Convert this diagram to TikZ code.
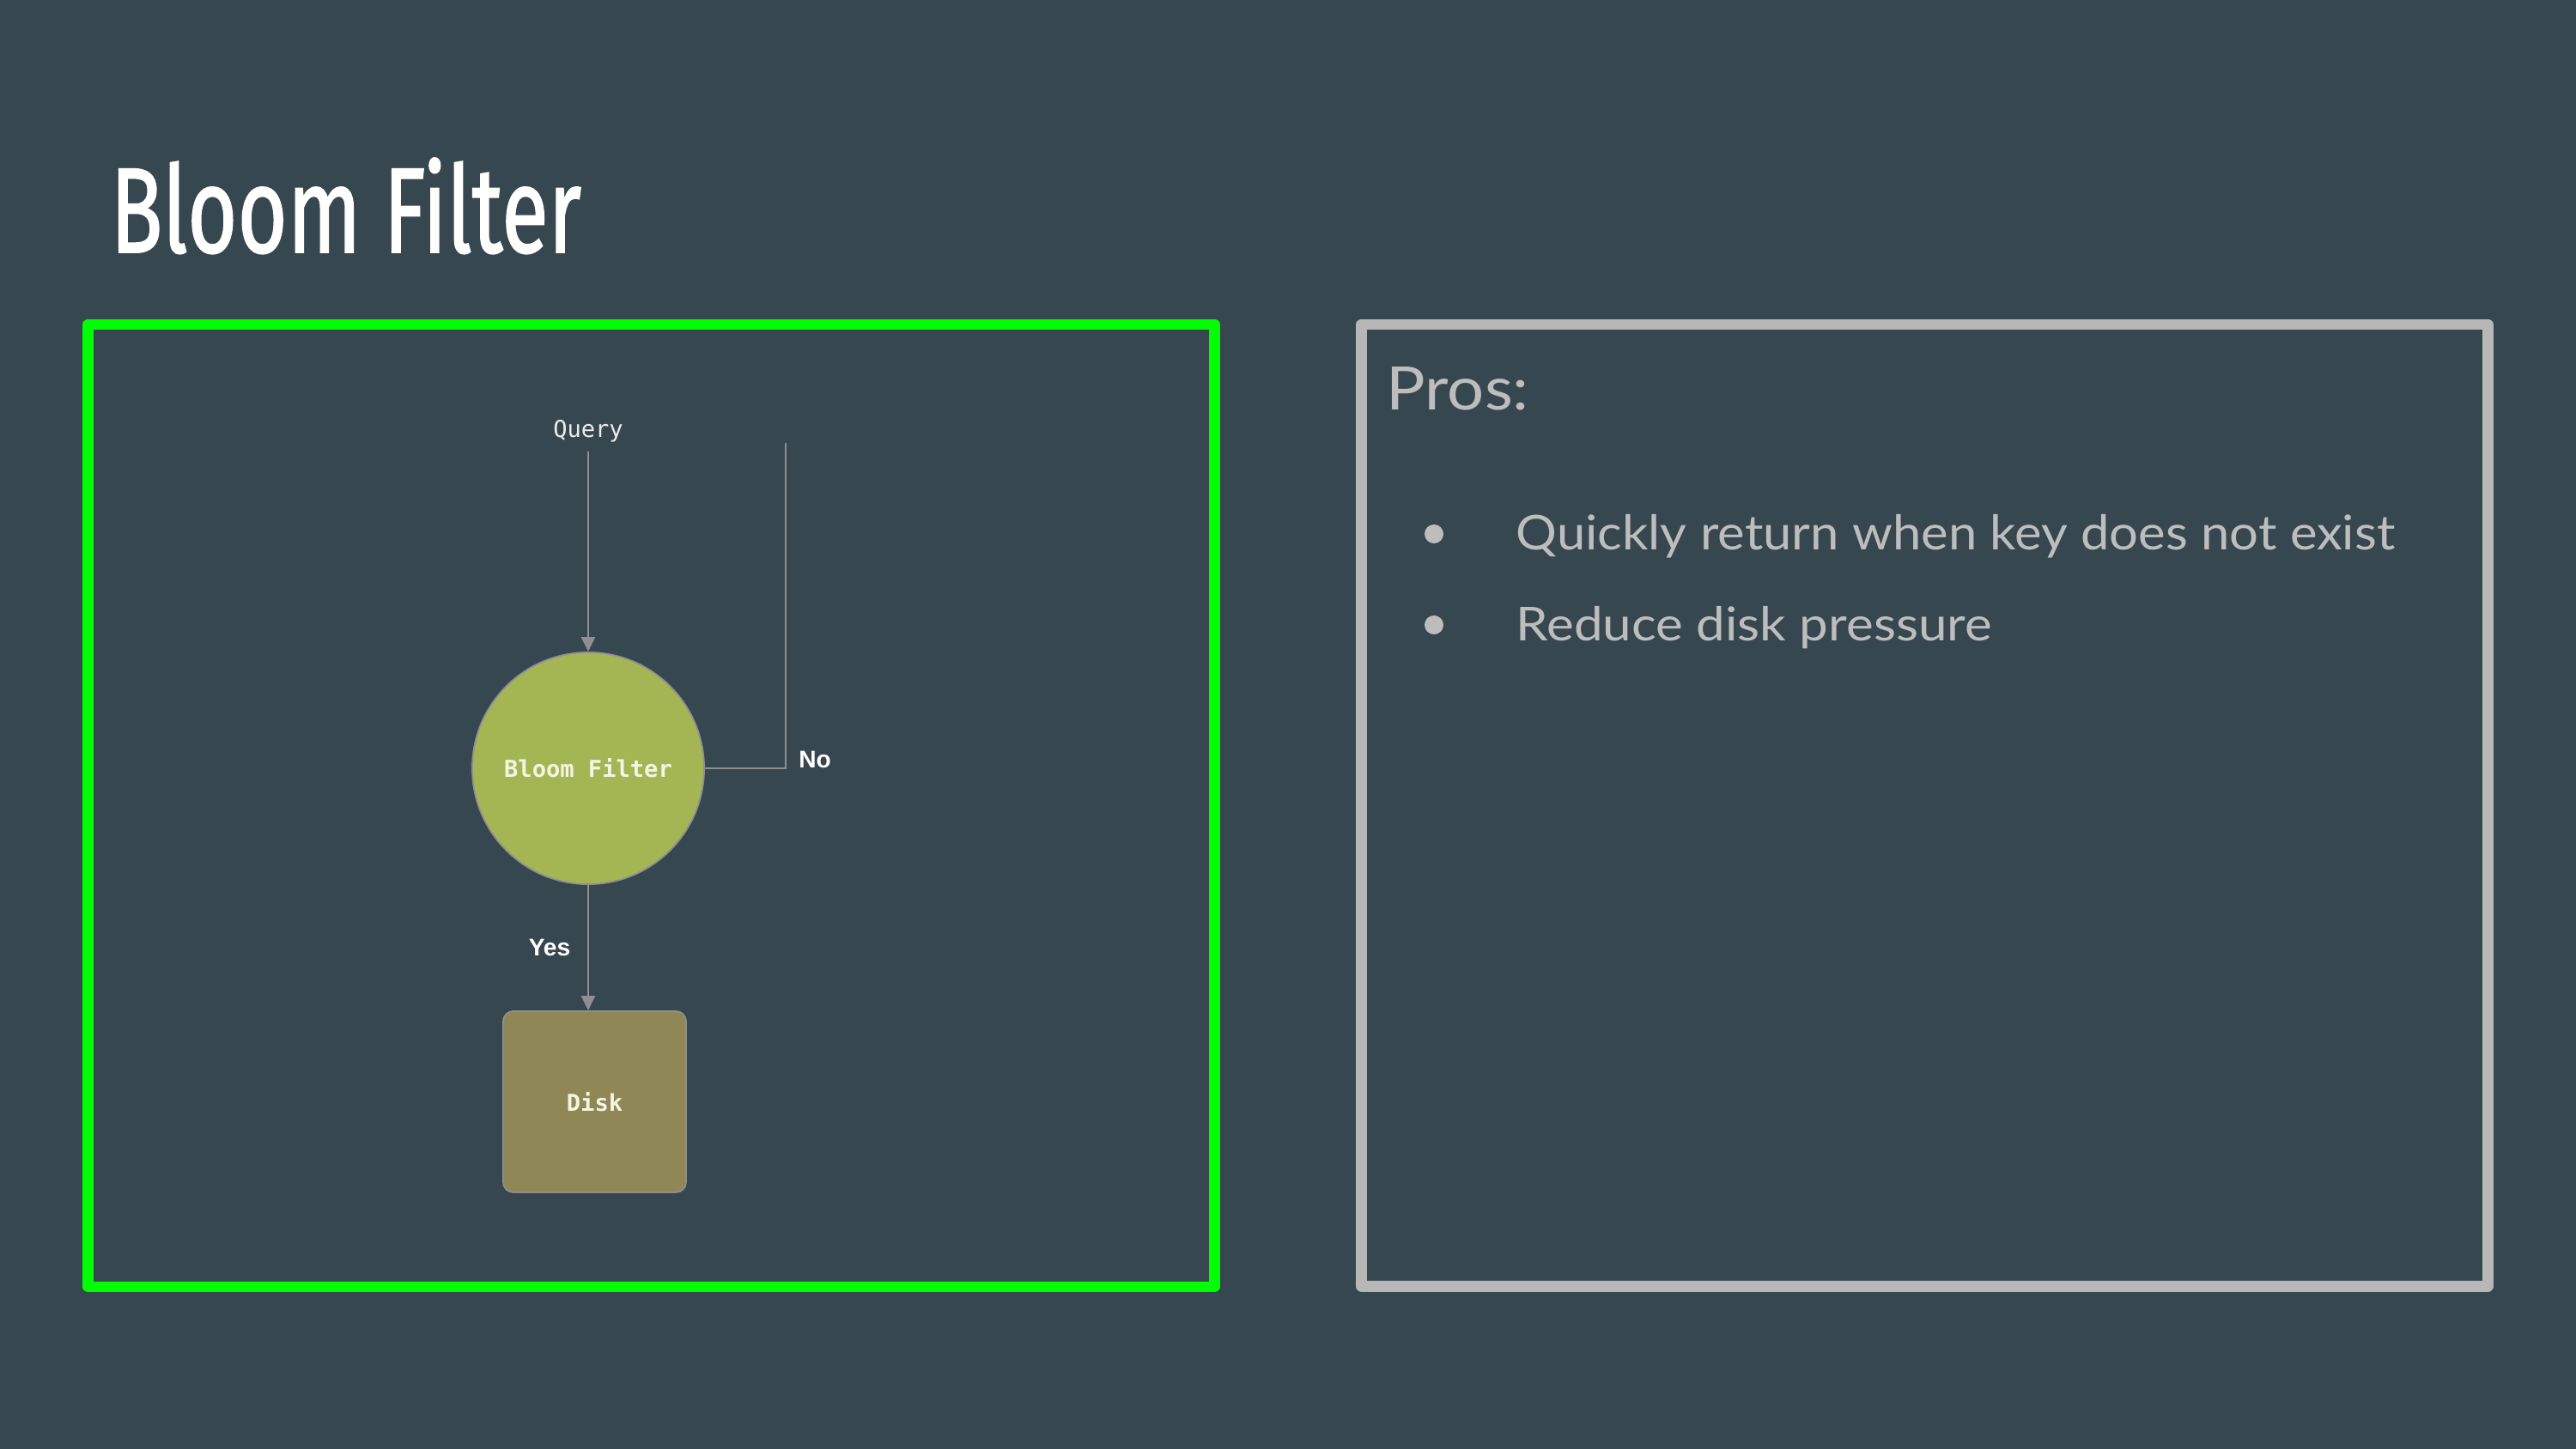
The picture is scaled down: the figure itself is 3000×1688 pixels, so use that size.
\documentclass[tikz,border=0pt]{standalone}
\usepackage{graphicx}
\usepackage{fontspec}
\usetikzlibrary{arrows.meta}
\setmainfont{Lato}
\newfontfamily\titlefont[FakeBold=1.4]{Fira Sans}
\newfontfamily\codefont{DejaVu Sans Mono}
\newfontfamily\labelfont{Liberation Sans}
\newfontfamily\bodyfont{Lato}

\definecolor{slide}{HTML}{37474F}
\definecolor{panelgreen}{HTML}{00FF00}
\definecolor{panelgrey}{HTML}{B7B7B7}
\definecolor{prosgrey}{HTML}{BDBDBD}
\definecolor{filtergreen}{HTML}{A4B654}
\definecolor{diskolive}{HTML}{8F8856}
\definecolor{linegrey}{HTML}{8E8E93}
\definecolor{nodetext}{HTML}{F4F4E2}

% scale a line of text so that its capitals get the given height
\newcommand{\capbox}[3]{\resizebox{#1}{#2}{\smash{#3}\vphantom{E}}}

\begin{document}
\begin{tikzpicture}[x=0.01cm, y=-0.01cm,
  panel/.style={line width=3.5pt, line join=round},
  conn/.style={draw=linegrey, line width=0.6pt},
  arrowconn/.style={conn, -{Triangle[length=4.8pt,width=4.6pt]}},
  codetext/.style={font=\codefont\fontsize{7.7}{9}\selectfont},
  filternode/.style={circle, codetext, font=\codefont\bfseries\fontsize{7.7}{9}\selectfont,
    fill=filtergreen, draw=linegrey, line width=0.5pt, minimum size=2.70cm,
    inner sep=0, text=nodetext},
  disknode/.style={rectangle, rounded corners=0.12cm,
    font=\codefont\bfseries\fontsize{7.7}{9}\selectfont, fill=diskolive,
    draw=linegrey, line width=0.5pt, minimum width=2.13cm, minimum height=2.11cm,
    inner sep=0, text=nodetext},
  querylabel/.style={codetext, text=white!92!black, inner sep=3pt},
  edgelabel/.style={font=\labelfont\bfseries\fontsize{8}{9}\selectfont, text=white, inner sep=0},
  bulletdot/.style={circle, fill=prosgrey, minimum size=0.22cm, inner sep=0},
  bodytext/.style={anchor=base west, inner sep=0, text=prosgrey}]

\useasboundingbox (0,0) rectangle (3000,1688);
\fill[slide] (0,0) rectangle (3000,1688);

% heading
\node[anchor=base west, inner sep=0, text=white] (title) at (128,294)
  {\capbox{5.48cm}{1.01cm}{\titlefont Bloom Filter}};

% the two panels
\draw[panel, draw=panelgreen] (102.5,378) rectangle (1414.5,1499);
\draw[panel, draw=panelgrey] (1585.5,378) rectangle (2897.5,1498.5);

% flow chart
\node[filternode] (bf) at (685,895) {Bloom Filter};
\node[disknode] (disk) at (692.5,1283.5) {Disk};
\node[querylabel] (query) at (685,502) {Query};
\coordinate (noend) at (915,516);
\node[edgelabel] (no) at (949,885) {No};
\node[edgelabel] (yes) at (640,1104) {Yes};

\draw[arrowconn] (query) -- (bf);
\draw[arrowconn] (bf.south) -- (bf.south |- disk.north);
\draw[conn] (bf.east) -- (bf.east -| noend) -- (noend);

% pros list
\node[bodytext] (pros) at (1614,477)
  {\capbox{1.66cm}{0.50cm}{\bodyfont Pros:}};
\node[bulletdot] (dot1) at (1670,622) {};
\node[bulletdot] (dot2) at (1670,728) {};
\node[bodytext] (item1) at (1765,640)
  {\capbox{10.23cm}{0.40cm}{\bodyfont Quickly return when key does not exist}};
\node[bodytext] (item2) at (1765,746)
  {\capbox{5.54cm}{0.39cm}{\bodyfont Reduce disk pressure}};
\end{tikzpicture}
\end{document}
